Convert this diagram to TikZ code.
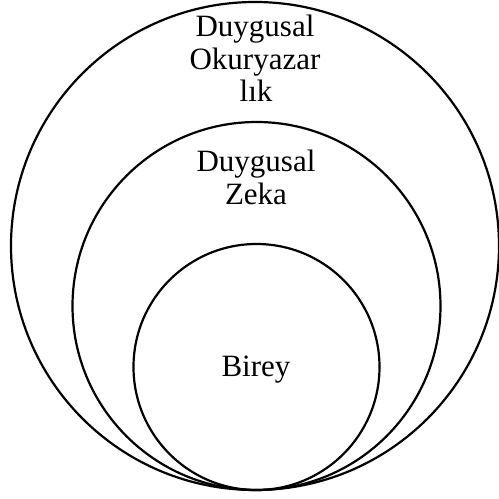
\documentclass[tikz,border=0pt]{standalone}
\usepackage{fontspec}
\setmainfont{Liberation Serif}
\begin{document}
\begin{tikzpicture}[x=1pt,y=1pt,
  ring/.style={circle,draw=black,line width=2.2pt,inner sep=0pt},
  lbl/.style={anchor=base,inner sep=0pt,font=\fontsize{31}{33}\selectfont}]
\useasboundingbox (0,0) rectangle (499,499);
\node[ring,minimum size=488pt] (outer) at (255,253) {};
\node[ring,minimum size=368pt] (middle) at (256.5,193) {};
\node[ring,minimum size=246pt] (inner) at (256.5,132) {};
\node[lbl] (t1) at (255,462.5) {Duygusal};
\node[lbl] (t2) at (255,429.5) {Okuryazar};
\node[lbl] (t3) at (256,397.5) {lık};
\node[lbl] (t4) at (256,327.5) {Duygusal};
\node[lbl] (t5) at (256,294) {Zeka};
\node[lbl] (t6) at (256,122.5) {Birey};
\end{tikzpicture}
\end{document}
